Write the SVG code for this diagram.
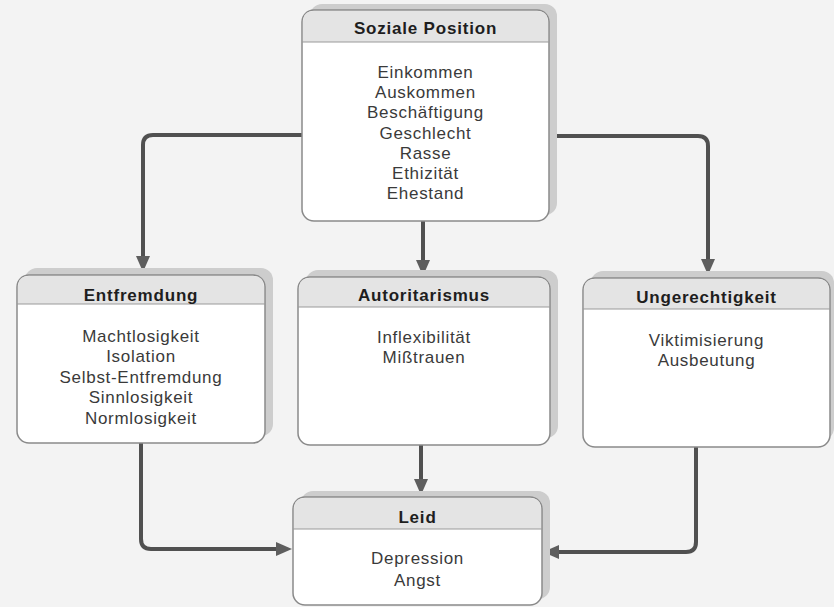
<svg xmlns="http://www.w3.org/2000/svg" width="834" height="607" viewBox="0 0 834 607">
<defs>
<style>
.shadow{fill:#cdcdcd;}
.box{fill:#ffffff;stroke:#8a8a8a;stroke-width:1.5;}
.head{fill:#e4e4e4;}
.sep{stroke:#9a9a9a;stroke-width:1.2;}
.title{font-family:"Liberation Sans",Arial,sans-serif;font-size:17px;font-weight:bold;fill:#1e1e1e;text-anchor:middle;letter-spacing:0.8px;}
.item{font-family:"Liberation Sans",Arial,sans-serif;font-size:17px;fill:#3a3a3a;text-anchor:middle;letter-spacing:0.7px;}
.conn{fill:none;stroke:#505050;stroke-width:4;}
</style>
<marker id="arr" viewBox="0 0 16 14" markerWidth="16" markerHeight="14" refX="8" refY="7" orient="auto" markerUnits="userSpaceOnUse">
<path d="M0,0 L16,7 L0,14 z" fill="#5e5e5e"/>
</marker>
</defs>
<rect x="0" y="0" width="834" height="607" fill="#f3f3f3"/>

<g id="connectors">
<path class="conn" d="M302,135 H153 Q143,135 143,145 V264" marker-end="url(#arr)"/>
<path class="conn" d="M549,136 H698 Q708,136 708,146 V267" marker-end="url(#arr)"/>
<path class="conn" d="M423,221 V268" marker-end="url(#arr)"/>
<path class="conn" d="M421,445 V487" marker-end="url(#arr)"/>
<path class="conn" d="M141,443 V539 Q141,549 151,549 H284" marker-end="url(#arr)"/>
<path class="conn" d="M696,447 V542 Q696,552 686,552 H551" marker-end="url(#arr)"/>
</g>

<g id="soziale-position">
<rect class="shadow" x="310" y="4" width="247" height="211" rx="12"/>
<rect class="box" x="302" y="10" width="247" height="211" rx="12"/>
<path class="head" d="M303,42 V22 Q303,11 314,11 H537 Q548,11 548,22 V42 Z"/>
<line class="sep" x1="302" y1="42" x2="549" y2="42"/>
<text class="title" x="425.5" y="34">Soziale Position</text>
<text class="item" x="425.5" y="78">Einkommen</text>
<text class="item" x="425.5" y="98">Auskommen</text>
<text class="item" x="425.5" y="118">Beschäftigung</text>
<text class="item" x="425.5" y="139">Geschlecht</text>
<text class="item" x="425.5" y="159">Rasse</text>
<text class="item" x="425.5" y="179">Ethizität</text>
<text class="item" x="425.5" y="199">Ehestand</text>
</g>

<g id="entfremdung">
<rect class="shadow" x="25" y="268" width="248" height="168" rx="12"/>
<rect class="box" x="17" y="275" width="248" height="168" rx="12"/>
<path class="head" d="M18,304 V287 Q18,276 29,276 H253 Q264,276 264,287 V304 Z"/>
<line class="sep" x1="17" y1="304" x2="265" y2="304"/>
<text class="title" x="141" y="301">Entfremdung</text>
<text class="item" x="141" y="342">Machtlosigkeit</text>
<text class="item" x="141" y="362">Isolation</text>
<text class="item" x="141" y="383">Selbst-Entfremdung</text>
<text class="item" x="141" y="403">Sinnlosigkeit</text>
<text class="item" x="141" y="424">Normlosigkeit</text>
</g>

<g id="autoritarismus">
<rect class="shadow" x="306" y="270" width="252" height="168" rx="12"/>
<rect class="box" x="298" y="277" width="252" height="168" rx="12"/>
<path class="head" d="M299,307 V289 Q299,278 310,278 H538 Q549,278 549,289 V307 Z"/>
<line class="sep" x1="298" y1="307" x2="550" y2="307"/>
<text class="title" x="424" y="301">Autoritarismus</text>
<text class="item" x="424" y="343">Inflexibilität</text>
<text class="item" x="424" y="363">Mißtrauen</text>
</g>

<g id="ungerechtigkeit">
<rect class="shadow" x="591" y="271" width="243" height="169" rx="12"/>
<rect class="box" x="583" y="278" width="247" height="169" rx="12"/>
<path class="head" d="M584,309 V290 Q584,279 595,279 H818 Q829,279 829,290 V309 Z"/>
<line class="sep" x1="583" y1="309" x2="830" y2="309"/>
<text class="title" x="706.5" y="303">Ungerechtigkeit</text>
<text class="item" x="706.5" y="346">Viktimisierung</text>
<text class="item" x="706.5" y="366">Ausbeutung</text>
</g>

<g id="leid">
<rect class="shadow" x="301" y="491" width="249" height="108" rx="12"/>
<rect class="box" x="293" y="497" width="249" height="108" rx="12"/>
<path class="head" d="M294,529 V509 Q294,498 305,498 H530 Q541,498 541,509 V529 Z"/>
<line class="sep" x1="293" y1="529" x2="542" y2="529"/>
<text class="title" x="417.5" y="523">Leid</text>
<text class="item" x="417.5" y="564">Depression</text>
<text class="item" x="417.5" y="586">Angst</text>
</g>
</svg>
